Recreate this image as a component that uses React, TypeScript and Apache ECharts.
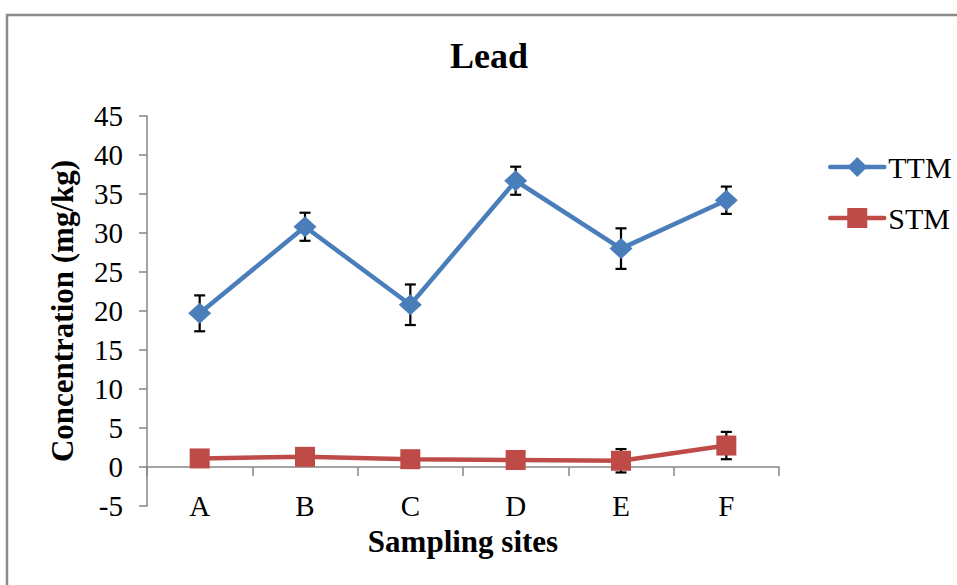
import React, { useEffect, useRef } from "react";
import * as echarts from "echarts";

const categories = ["A", "B", "C", "D", "E", "F"];
const ttmValues = [19.7, 30.8, 20.8, 36.7, 28.0, 34.2];
const ttmErrors = [2.3, 1.8, 2.6, 1.8, 2.6, 1.75];
const stmValues = [1.1, 1.3, 1.0, 0.9, 0.8, 2.75];
const stmErrors = [0.5, 0.5, 0.5, 0.5, 1.5, 1.75];
const yTicks = { min: -5, max: 45, interval: 5 };

const FONT = "'Liberation Serif', 'Times New Roman', serif";
const BLUE = "#4A7EBB";
const RED = "#BE4B48";
const AXIS = "#868686";

function errorData(values: number[], errs: number[]) {
  return values.map((v, i) => [i, v - errs[i], v + errs[i]]);
}

function renderError(params: any, api: any) {
  const i = api.value(0);
  const lo = api.coord([i, api.value(1)]);
  const hi = api.coord([i, api.value(2)]);
  const cap = 5.5;
  const style = { stroke: "#000", lineWidth: 2.2 };
  return {
    type: "group",
    children: [
      { type: "line", shape: { x1: lo[0], y1: lo[1], x2: hi[0], y2: hi[1] }, style },
      { type: "line", shape: { x1: lo[0] - cap, y1: lo[1], x2: lo[0] + cap, y2: lo[1] }, style },
      { type: "line", shape: { x1: hi[0] - cap, y1: hi[1], x2: hi[0] + cap, y2: hi[1] }, style },
    ],
  };
}

export default function App() {
  const ref = useRef<HTMLDivElement>(null);
  useEffect(() => {
    document.body.style.margin = "0";
    const chart = echarts.init(ref.current!, null, { renderer: "svg" });
    chart.setOption({
      animation: false,
      backgroundColor: "#fff",
      title: {
        text: "Lead",
        left: 489,
        top: 38,
        padding: 0,
        textAlign: "center",
        textStyle: { fontFamily: FONT, fontSize: 36, fontWeight: "bold", color: "#000" },
      },
      graphic: [
        {
          type: "rect",
          shape: { x: 7, y: 15, width: 1000, height: 700 },
          style: { fill: "none", stroke: "#8a8a8a", lineWidth: 2.5 },
          silent: true,
        },
      ],
      legend: {
        orient: "vertical",
        left: 828,
        top: 152,
        padding: 0,
        itemWidth: 54,
        itemHeight: 25,
        itemGap: 21,
        lineStyle: { width: 4.5, cap: "round" },
        textStyle: { fontFamily: FONT, fontSize: 30, color: "#000", padding: [0, 0, 0, -1] },
        data: ["TTM", "STM"],
      },
      grid: { left: 147, top: 116, width: 632, height: 390, containLabel: false },
      xAxis: [
        {
          type: "category",
          data: categories,
          boundaryGap: true,
          axisLine: { onZero: true, lineStyle: { color: AXIS, width: 1.5 } },
          axisTick: { show: true, length: 9, inside: false, lineStyle: { color: AXIS, width: 1.5 } },
          axisLabel: { show: false },
        },
        {
          type: "category",
          data: categories,
          position: "bottom",
          boundaryGap: true,
          axisLine: { show: false },
          axisTick: { show: false },
          axisLabel: {
            margin: 0,
            verticalAlign: "middle",
            fontFamily: FONT,
            fontSize: 29,
            color: "#000",
          },
          name: "Sampling sites",
          nameLocation: "middle",
          nameGap: 20,
          nameTextStyle: { fontFamily: FONT, fontSize: 31, fontWeight: "bold", color: "#000" },
        },
      ],
      yAxis: {
        type: "value",
        min: yTicks.min,
        max: yTicks.max,
        interval: yTicks.interval,
        axisLine: { show: true, lineStyle: { color: AXIS, width: 1.5 } },
        axisTick: { show: true, length: 8, lineStyle: { color: AXIS, width: 1.5 } },
        splitLine: { show: false },
        axisLabel: { margin: 24, fontFamily: FONT, fontSize: 29, color: "#000" },
        name: "Concentration (mg/kg)",
        nameLocation: "middle",
        nameGap: 69,
        nameTextStyle: { fontFamily: FONT, fontSize: 31, fontWeight: "bold", color: "#000" },
      },
      series: [
        {
          type: "custom",
          name: "TTM err",
          xAxisIndex: 0,
          renderItem: renderError,
          data: errorData(ttmValues, ttmErrors),
          encode: { x: 0, y: [1, 2] },
          z: 1,
        },
        {
          type: "custom",
          name: "STM err",
          xAxisIndex: 0,
          renderItem: renderError,
          data: errorData(stmValues, stmErrors),
          encode: { x: 0, y: [1, 2] },
          z: 1,
        },
        {
          type: "line",
          name: "TTM",
          xAxisIndex: 0,
          data: ttmValues,
          symbol: "diamond",
          symbolSize: [23, 21],
          lineStyle: { color: BLUE, width: 4.5 },
          itemStyle: { color: BLUE },
          z: 3,
        },
        {
          type: "line",
          name: "STM",
          xAxisIndex: 0,
          data: stmValues,
          symbol: "rect",
          symbolSize: 20,
          lineStyle: { color: RED, width: 4.5 },
          itemStyle: { color: RED },
          z: 3,
        },
      ],
    });
    return () => chart.dispose();
  }, []);
  return <div ref={ref} style={{ width: 957, height: 585 }} />;
}
